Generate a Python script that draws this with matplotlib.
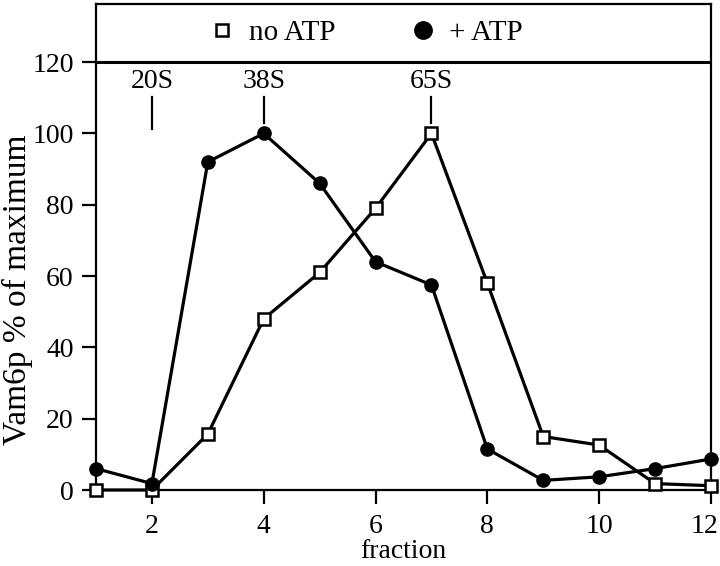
import numpy as np
import matplotlib
matplotlib.use('Agg')
import matplotlib.pyplot as plt
import matplotlib.transforms as mtransforms
from matplotlib.lines import Line2D

plt.rcParams['font.family'] = ['Liberation Serif', 'DejaVu Serif']

fraction = [1, 2, 3, 4, 5, 6, 7, 8, 9, 10, 11, 12]
no_atp = [0, 0, 15.7, 48, 61, 79, 100, 58, 15, 12.6, 1.8, 1.2]
plus_atp = [6, 1.8, 92, 100, 86, 64, 57.5, 11.5, 2.7, 3.7, 6, 8.7]

markers_s = ['20S', '38S', '65S']
markers_x = [2, 4, 7]

fig = plt.figure(figsize=(7.2, 5.66), dpi=100)
ax = fig.add_axes([96/720, 1-490/566, 615/720, 486/566])

ax.plot(fraction, no_atp, color='black', lw=2.3, marker='s', ms=8.5,
        mfc='white', mec='black', mew=1.8, clip_on=False, zorder=3)
ax.plot(fraction, plus_atp, color='black', lw=2.3, marker='o', ms=9.5,
        mfc='black', mec='black', clip_on=False, zorder=3)

# sedimentation markers
for s, x in zip(markers_s, markers_x):
    ax.text(x, 114.5, s, ha='center', va='center', fontsize=20)
    bot = 101.2 if s == '20S' else 103
    ax.plot([x, x], [bot, 110.2], color='black', lw=1.6)

ax.axhline(120, color='black', lw=2.2)

ax.set_xlim(1, 12)
ax.set_ylim(0, 136.3)
ax.set_xticks([2, 4, 6, 8, 10, 12])
ax.set_yticks([0, 20, 40, 60, 80, 100, 120])
ax.tick_params(direction='out', length=10, width=1.6, labelsize=20)
ax.tick_params(axis='x', pad=7)
ax.tick_params(axis='y', pad=6)
last = ax.xaxis.get_major_ticks()[-1].label1
last.set_transform(last.get_transform() + mtransforms.ScaledTranslation(-7/100, 0, fig.dpi_scale_trans))
for sp in ax.spines.values():
    sp.set_linewidth(1.6)

ax.set_xlabel('fraction', fontsize=20, va='top')
ax.xaxis.set_label_coords(0.5, -0.1)
ax.set_ylabel('Vam6p % of maximum', fontsize=24, va='center')
ax.yaxis.set_label_coords(-0.128, (490-290)/486)

handles = [Line2D([], [], ls='none', marker='s', ms=9, mfc='white', mec='black', mew=1.8),
           Line2D([], [], ls='none', marker='o', ms=12.5, mfc='black', mec='black')]
ax.legend(handles, ['no ATP', '+ ATP'], loc='center', bbox_to_anchor=(0.44, 0.94),
          ncol=2, frameon=False, fontsize=21, handlelength=0.8, columnspacing=2.6,
          handletextpad=0.5)

fig.savefig('out.png', dpi=100)
